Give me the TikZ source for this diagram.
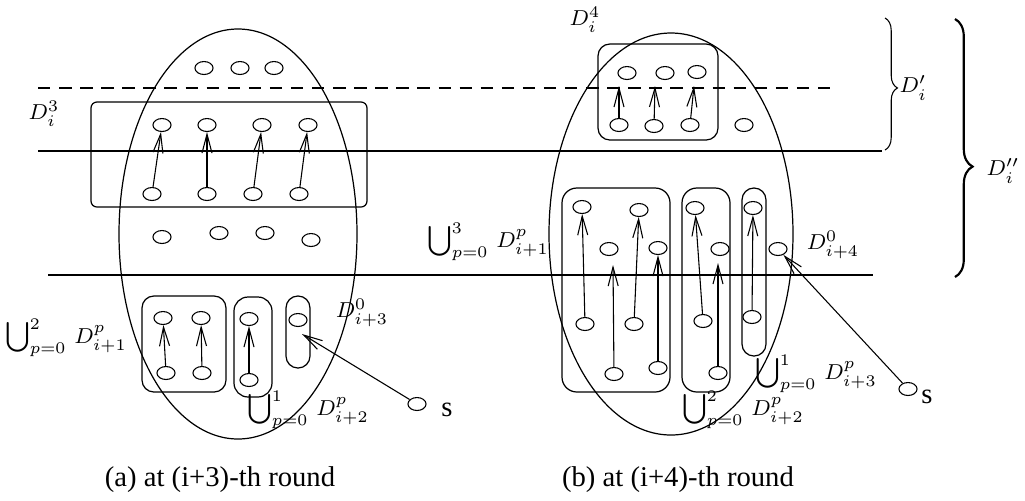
\documentclass[tikz,border=0pt]{standalone}
\usepackage{fontspec}
\setmainfont{Liberation Serif}
\usetikzlibrary{arrows.meta,shapes.geometric,decorations.pathreplacing,fit}
\newcommand\pxlen{0.37pt}
\newcommand\bigU{\mathop{\vcenter{\hbox{\scalebox{1.1}{$\bigcup$}}}}\nolimits}
\begin{document}
\begin{tikzpicture}[x=0.37pt,y=-0.37pt,
  v/.style={draw,ellipse,minimum width=6.7pt,minimum height=4.8pt,inner sep=0pt,line width=0.4pt},
  bigell/.style={draw,ellipse,inner sep=0pt,line width=0.45pt},
  grp/.style={draw,rectangle,inner sep=0pt,line width=0.45pt},
  arr/.style={-{Straight Barb[length=7pt,width=3.7pt]},line width=0.4pt},
  thickline/.style={line width=1.1pt},
  dashline/.style={dash pattern=on 4.6pt off 3.2pt,line width=0.4pt},
  mlbl/.style={inner sep=0pt,font=\footnotesize},
  captxt/.style={inner sep=0pt,font=\fontsize{10.6}{12}\selectfont},
  brc/.style={decorate,line width=0.4pt},
]
\useasboundingbox (0,0) rectangle (1025,500);

% ---------- (a) ----------
\node[bigell,minimum width=238*\pxlen,minimum height=410*\pxlen] (EA) at (238,234) {};
\node[grp,rounded corners=2.2pt,fit={(91,102) (367,207)}] (R3) {};
\node[grp,rounded corners=4.4pt,fit={(142,296) (226,392)}] (G1) {};
\node[grp,rounded corners=5.2pt,fit={(234,297) (272,397)}] (G2) {};
\node[grp,rounded corners=4.4pt,fit={(286,296) (310,368)}] (G3) {};

\node[v] (t1) at (204,68) {};
\node[v] (t2) at (240,68) {};
\node[v] (t3) at (274,68) {};
\node[v] (a1) at (162,125) {};
\node[v] (a2) at (207,125) {};
\node[v] (a3) at (262,125) {};
\node[v] (a4) at (308,125) {};
\node[v] (b1) at (152,194) {};
\node[v] (b2) at (207,194) {};
\node[v] (b3) at (253,194) {};
\node[v] (b4) at (299,194) {};
\node[v] (m1) at (162,237) {};
\node[v] (m2) at (219,233) {};
\node[v] (m3) at (265,233) {};
\node[v] (m4) at (311,240) {};
\node[v] (c1) at (163,318) {};
\node[v] (c2) at (201,318) {};
\node[v] (c3) at (166,373) {};
\node[v] (c4) at (202,373) {};
\node[v] (e1) at (249,319) {};
\node[v] (e2) at (249,380) {};
\node[v] (f1) at (298,320) {};
\node[v] (s1) at (417,404) {};
\coordinate (f1t) at (302,334);

\draw[arr] (b1) -- (a1);
\draw[arr] (b2) -- (a2);
\draw[arr] (b3) -- (a3);
\draw[arr] (b4) -- (a4);
\draw[arr] (c3) -- (c1);
\draw[arr] (c4) -- (c2);
\draw[arr] (e2) -- (e1);
\draw[arr] (s1) -- (f1t);

\node[mlbl] (lD3) at (44,114) {$D_i^3$};
\node[mlbl] (lU2a) at (66,338) {$\bigU_{p=0}^{2}\,D_{i+1}^{p}$};
\node[mlbl] (lD0a) at (362,313) {$D_{i+3}^{0}$};
\node[mlbl] (lU1a) at (308,410) {$\bigU_{p=0}^{1}\,D_{i+2}^{p}$};
\node[captxt] (ls1) at (447,410) {s};
\node[captxt] (capa) at (220,480) {(a) at (i+3)-th round};

% ---------- (b) ----------
\node[bigell,minimum width=244*\pxlen,minimum height=402*\pxlen] (EB) at (671,234) {};
\node[grp,rounded corners=4.4pt,fit={(598,44) (718,140)}] (R4) {};
\node[grp,rounded corners=5.5pt,fit={(562,188) (670,392)}] (H1) {};
\node[grp,rounded corners=5.5pt,fit={(682,188) (730,392)}] (H2) {};
\node[grp,rounded corners=4.4pt,fit={(742,188) (766,356)}] (H3) {};

\node[v] (u1) at (627,73) {};
\node[v] (u2) at (665,73) {};
\node[v] (u3) at (697,72) {};
\node[v] (v1) at (619,125) {};
\node[v] (v2) at (654,126) {};
\node[v] (v3) at (690,125) {};
\node[v] (v4) at (744,125) {};
\coordinate (v1t) at (619,86);
\coordinate (v2t) at (655,86);
\coordinate (v3t) at (694,86);
\draw[arr] (v1) -- (v1t);
\draw[arr] (v2) -- (v2t);
\draw[arr] (v3) -- (v3t);

\node[v] (p1) at (582,207) {};
\node[v] (p2) at (639,210) {};
\node[v] (p3) at (609,249) {};
\node[v] (p4) at (658,248) {};
\node[v] (p5) at (585,324) {};
\node[v] (p6) at (634,324) {};
\node[v] (p7) at (614,374) {};
\node[v] (p8) at (658,368) {};
\node[v] (q1) at (695,208) {};
\node[v] (q2) at (720,249) {};
\node[v] (q3) at (703,321) {};
\node[v] (q4) at (718,373) {};
\node[v] (r1) at (753,208) {};
\node[v] (r2) at (752,317) {};
\node[v] (d4) at (778,249) {};
\node[v] (s2) at (908,389) {};
\coordinate (p3t) at (613,265);
\coordinate (q2t) at (718,263);

\draw[arr] (p5) -- (p1);
\draw[arr] (p7) -- (p3t);
\draw[arr] (p6) -- (p2);
\draw[arr] (p8) -- (p4);
\draw[arr] (q3) -- (q1);
\draw[arr] (q4) -- (q2t);
\draw[arr] (r2) -- (r1);
\draw[arr] (s2) -- (d4);

\node[mlbl] (lD4) at (585,20) {$D_i^4$};
\node[mlbl] (lU3b) at (488,242) {$\bigU_{p=0}^{3}\,D_{i+1}^{p}$};
\node[mlbl] (lD0b) at (833,245) {$D_{i+4}^{0}$};
\node[mlbl] (lU1b) at (816,374) {$\bigU_{p=0}^{1}\,D_{i+3}^{p}$};
\node[mlbl] (lU2b) at (743,410) {$\bigU_{p=0}^{2}\,D_{i+2}^{p}$};
\node[captxt] (ls2) at (927,397) {s};
\node[captxt] (capb) at (678,480) {(b) at (i+4)-th round};

% ---------- lines and braces ----------
\coordinate (dL) at (38,88);
\coordinate (dR) at (838,88);
\coordinate (k1L) at (38,151);
\coordinate (k1R) at (882,151);
\coordinate (k2L) at (48,275);
\coordinate (k2R) at (873,275);
\draw[dashline] (dL) -- (dR);
\draw[thickline] (k1L) -- (k1R);
\draw[thickline] (k2L) -- (k2R);

\coordinate (b1s) at (885,18);
\coordinate (b1e) at (885,150);
\coordinate (b2s) at (955,19);
\coordinate (b2e) at (955,277);
\draw[brc,decoration={brace,amplitude=4.6pt,aspect=0.53}] (b1s) -- (b1e);
\draw[brc,line width=0.8pt,decoration={brace,amplitude=6.5pt,aspect=0.572}] (b2s) -- (b2e);
\node[mlbl,anchor=west] (lDp) at (899,88) {$D'_i$};
\node[mlbl] (lDpp) at (1003,171) {$D''_i$};
\end{tikzpicture}
\end{document}
